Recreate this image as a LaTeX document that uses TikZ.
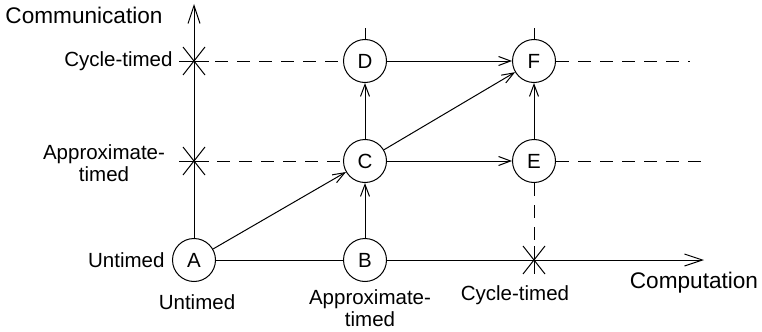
\documentclass[tikz,border=0pt]{standalone}
\usepackage{fontspec}
\setmainfont{Liberation Sans}
\usetikzlibrary{arrows.meta,positioning}

\begin{document}
\begin{tikzpicture}[x=0.5pt, y=-0.5pt,
    state/.style={draw, circle, minimum size=21.5pt, inner sep=0pt, line width=0.5pt, font=\fontsize{10.25}{11}\selectfont},
    lbl/.style={align=center, inner sep=0pt, font=\fontsize{10.25}{11}\selectfont},
    title/.style={inner sep=0pt, font=\fontsize{11.3}{12}\selectfont},
    arr/.style={-{Straight Barb[length=6pt,width=4.5pt]}, line width=0.5pt},
    axis/.style={-{Straight Barb[length=9pt,width=6pt]}, line width=0.5pt},
    dsh/.style={dash pattern=on 6.5pt off 4.5pt, line width=0.5pt},
    every path/.style={line width=0.5pt}]
    \useasboundingbox (0,0) rectangle (762,332);

    % Models
    \node[state] (A) at (194,260) {A};
    \node[state] (B) at (365,260) {B};
    \node[state] (C) at (365,161) {C};
    \node[state] (D) at (365,61) {D};
    \node[state] (E) at (534,161) {E};
    \node[state] (F) at (534,61) {F};

    % Axis points
    \coordinate (ytip) at (194,4);
    \coordinate (xtip) at (704,260);
    \coordinate (ycyc) at (194,61);
    \coordinate (yapp) at (194,161);
    \coordinate (xcyc) at (534,260);
    \coordinate (cycend) at (690,61);
    \coordinate (append) at (702,161);
    \coordinate (Dtop) at (365,28);
    \coordinate (Ftop) at (534,28);

    % Axes
    \draw[axis] (A) -- (ytip);
    \draw (A) -- (B);
    \draw[axis] (B) -- (xtip);

    % Crosses on the axes
    \foreach \p in {ycyc,yapp,xcyc}
        \draw (\p) +(-11,-14) -- +(11,14) (\p) +(-11,14) -- +(11,-14);
    \draw (ycyc) +(-15,0) -- +(15,0);
    \draw (yapp) +(-15,0) -- +(15,0);
    \draw (xcyc) +(0,-14) -- +(0,14);

    % Dashed levels
    \draw[dsh, shorten <=10.5pt] (ycyc) -- (D);
    \draw[dsh] (F) -- (cycend);
    \draw[dsh, shorten <=11.5pt] (yapp) -- (C);
    \draw[dsh] (E) -- (append);
    \draw[dsh, shorten >=7pt] (E) -- (xcyc);

    % Stubs
    \draw (Dtop) -- (D);
    \draw (Ftop) -- (F);

    % Refinements
    \draw[arr] (A) -- (C);
    \draw[arr] (B) -- (C);
    \draw[arr] (C) -- (D);
    \draw[arr] (C) -- (F);
    \draw[arr] (C) -- (E);
    \draw[arr] (D) -- (F);
    \draw[arr] (E) -- (F);

    % Labels
    \node[title] (comm) at (84,15) {Communication};
    \node[lbl, anchor=east] (lcyc) at (173,61) {Cycle-timed};
    \node[lbl] (lapp) at (104,163) {Approximate-\\timed};
    \node[lbl, anchor=east] (lunt) at (165,260) {Untimed};
    \node[lbl] (bunt) at (197,302) {Untimed};
    \node[lbl] (bapp) at (370,308) {Approximate-\\timed};
    \node[lbl] (bcyc) at (515,295) {Cycle-timed};
    \node[title] (comp) at (694,283) {Computation};
\end{tikzpicture}
\end{document}
